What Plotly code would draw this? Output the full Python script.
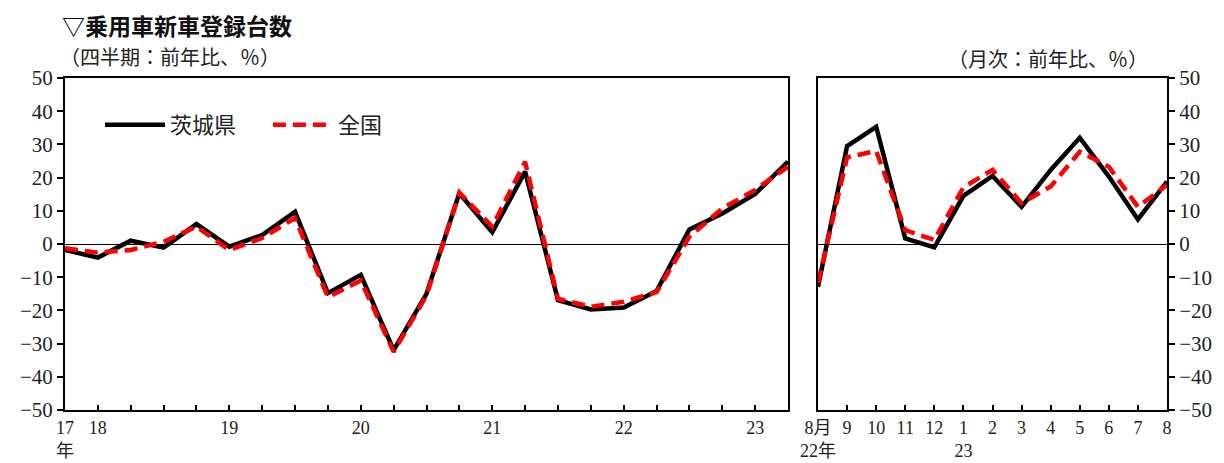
import plotly.graph_objects as go

# Quarterly data (2017Q4 .. 2023Q2), YoY %
q_ibaraki = [-1.8, -4.1, 1.0, -1.1, 6.0, -0.8, 2.7, 9.7, -14.8, -9.3, -32.0, -15.0,
             15.3, 3.5, 21.8, -16.9, -19.7, -19.1, -14.2, 4.4, 9.2, 15.1, 24.8]
q_national = [-1.3, -2.6, -1.8, 0.7, 5.2, -1.8, 1.8, 7.8, -16.0, -11.0, -32.5, -15.5,
              15.5, 5.2, 24.8, -16.5, -18.9, -17.4, -14.5, 2.2, 10.7, 16.3, 23.3]
q_ticktext = ["17<br>年", "18", "", "", "", "19", "", "", "", "20", "", "", "",
              "21", "", "", "", "22", "", "", "", "23", ""]

# Monthly data (2022/8 .. 2023/8), YoY %
m_ibaraki = [-12.9, 29.5, 35.3, 1.7, -1.0, 14.5, 20.5, 11.2, 22.3, 32.0, 20.3, 7.4, 18.8]
m_national = [-11.8, 26.1, 28.0, 4.2, 1.2, 17.1, 22.3, 12.3, 17.3, 27.8, 23.3, 11.2, 17.8]
m_ticktext = ["8月<br>22年", "9", "10", "11", "12", "1<br>23", "2", "3", "4", "5", "6", "7", "8"]

y_ticks = list(range(-50, 51, 10))

W, H = 1224, 463
serif = "Liberation Serif, Noto Sans CJK JP, serif"
sans = "Noto Sans CJK JP, sans-serif"

qx = list(range(len(q_ibaraki)))
mx = list(range(len(m_ibaraki)))

fig = go.Figure()
black_line = dict(color="black", width=4.5)
red_line = dict(color="#ff0000", width=4.5, dash="13px,7px")

fig.add_trace(go.Scatter(x=qx, y=q_ibaraki, mode="lines", line=black_line,
                         name="茨城県　 ", xaxis="x", yaxis="y"))
fig.add_trace(go.Scatter(x=qx, y=q_national, mode="lines", line=red_line,
                         name="全国", xaxis="x", yaxis="y"))
fig.add_trace(go.Scatter(x=mx, y=m_ibaraki, mode="lines", line=black_line,
                         showlegend=False, xaxis="x2", yaxis="y2"))
fig.add_trace(go.Scatter(x=mx, y=m_national, mode="lines", line=red_line,
                         showlegend=False, xaxis="x2", yaxis="y2"))

ydom = [1 - 410 / H, 1 - 78 / H]
common_x = dict(showgrid=False, zeroline=False, showline=True, linecolor="black",
                linewidth=2, mirror=True, ticks="inside", ticklen=5, tickwidth=1.5,
                tickcolor="black", tickangle=0, automargin=False,
                tickfont=dict(family=serif, size=18, color="#222"), fixedrange=True)
common_y = dict(showgrid=False, zeroline=True, zerolinecolor="black", zerolinewidth=1,
                showline=True, linecolor="black", linewidth=2, mirror=True,
                range=[-50, 50], tickvals=y_ticks, ticks="outside", ticklen=6,
                tickwidth=1.5, tickcolor="black", automargin=False,
                tickfont=dict(family=serif, size=21, color="#222"), fixedrange=True)

fig.update_layout(
    width=W, height=H,
    margin=dict(l=0, r=0, t=0, b=0, autoexpand=False),
    paper_bgcolor="white", plot_bgcolor="white",
    xaxis=dict(common_x, domain=[65 / W, 788 / W], range=[0, len(qx) - 1],
               tickvals=qx, ticktext=q_ticktext, anchor="y"),
    yaxis=dict(common_y, domain=ydom, anchor="x", side="left"),
    xaxis2=dict(common_x, domain=[818 / W, 1167 / W], range=[0, len(mx) - 1],
                tickvals=mx, ticktext=m_ticktext, anchor="y2"),
    yaxis2=dict(common_y, domain=ydom, anchor="x2", side="right"),
    legend=dict(orientation="h", x=100 / W, y=1 - 104 / H, xanchor="left", yanchor="top",
                font=dict(family=sans, size=22, color="#222"),
                bgcolor="rgba(0,0,0,0)", itemwidth=60, tracegroupgap=0),
    showlegend=True,
    annotations=[
        dict(text="<b>▽乗用車新車登録台数</b>", x=60 / W, y=1 - 6 / H, xref="paper", yref="paper",
             xanchor="left", yanchor="top", showarrow=False,
             font=dict(family=sans, size=23, color="#111")),
        dict(text="（四半期：前年比、％）", x=58 / W, y=1 - 40 / H, xref="paper", yref="paper",
             xanchor="left", yanchor="top", showarrow=False,
             font=dict(family=sans, size=20, color="#222")),
        dict(text="（月次：前年比、％）", x=1150 / W, y=1 - 42 / H, xref="paper", yref="paper",
             xanchor="right", yanchor="top", showarrow=False,
             font=dict(family=sans, size=20, color="#222")),
    ],
)

fig.write_html("out.html", config={"displayModeBar": False},
               post_script="document.body.style.margin='0';document.body.style.overflow='hidden';")
